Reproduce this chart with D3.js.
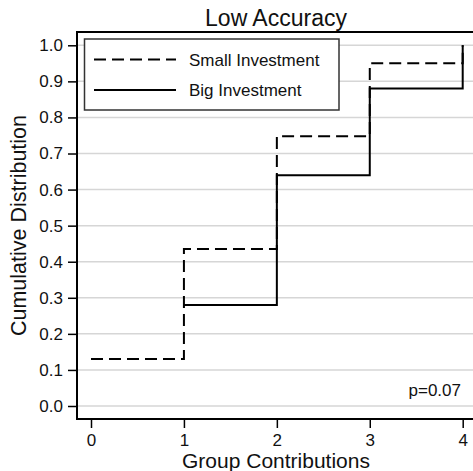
<!DOCTYPE html>
<html>
<head>
<meta charset="utf-8">
<script src="https://cdn.jsdelivr.net/npm/d3@7"></script>
<style>
  html, body { margin: 0; padding: 0; background: #fff; }
  svg { display: block; font-family: "Liberation Sans", Arial, Helvetica, sans-serif; }
</style>
</head>
<body>
<svg id="chart" width="473" height="471"></svg>
<script>
// Group contribution levels on the x axis
const contributions = [0, 1, 2, 3, 4];
// Cumulative distribution per treatment
const smallContrib = [0, 1, 2, 3, 4];
const smallCdf = [0.13, 0.435, 0.748, 0.95, 1.0];
const bigContrib = [1, 2, 3, 4];
const bigCdf = [0.28, 0.64, 0.88, 1.0];
// Axis ticks
const yTicks = [0, 0.1, 0.2, 0.3, 0.4, 0.5, 0.6, 0.7, 0.8, 0.9, 1.0];
const seriesNames = ["Small Investment", "Big Investment"];
const pLabel = "p=0.07";

const svg = d3.select("#chart");
const frame = { left: 77, top: 32, right: 490, bottom: 419 };

const x = d3.scaleLinear().domain([0, 4]).range([91, 462.7]);
const y = d3.scaleLinear().domain([0, 1]).range([406, 45.3]);

// horizontal grid lines
svg.append("g")
  .selectAll("line")
  .data(yTicks)
  .join("line")
  .attr("x1", frame.left).attr("x2", frame.right)
  .attr("y1", d => y(d)).attr("y2", d => y(d))
  .attr("stroke", "#d6d6d6").attr("stroke-width", 1.5);

// y axis
const yAxis = d3.axisLeft(y).tickValues(yTicks).tickFormat(d3.format(".1f"))
  .tickSize(9).tickPadding(5);
const gy = svg.append("g").attr("transform", `translate(${frame.left},0)`).call(yAxis);
gy.select(".domain").remove();
gy.selectAll(".tick line").attr("stroke", "#000").attr("stroke-width", 1.5);
gy.selectAll(".tick text").attr("font-size", 17).attr("fill", "#111")
  .attr("font-family", "'Liberation Sans', Arial, sans-serif");

// x axis
const xAxis = d3.axisBottom(x).tickValues(contributions).tickFormat(d3.format("d"))
  .tickSize(9).tickPadding(6);
const gx = svg.append("g").attr("transform", `translate(0,${frame.bottom})`).call(xAxis);
gx.select(".domain").remove();
gx.selectAll(".tick line").attr("stroke", "#000").attr("stroke-width", 1.5);
gx.selectAll(".tick text").attr("font-size", 17).attr("fill", "#111")
  .attr("font-family", "'Liberation Sans', Arial, sans-serif");

// plot frame: left, top, bottom
svg.append("path")
  .attr("d", `M${frame.right},${frame.top}H${frame.left}V${frame.bottom}H${frame.right}`)
  .attr("fill", "none").attr("stroke", "#000").attr("stroke-width", 2);

// step lines
const line = d3.line().x(d => x(d[0])).y(d => y(d[1])).curve(d3.curveStepAfter);

svg.append("path")
  .datum(d3.zip(smallContrib, smallCdf))
  .attr("d", line)
  .attr("fill", "none").attr("stroke", "#000").attr("stroke-width", 2)
  .attr("stroke-dasharray", "12,6");

svg.append("path")
  .datum(d3.zip(bigContrib, bigCdf))
  .attr("d", line)
  .attr("fill", "none").attr("stroke", "#000").attr("stroke-width", 2);

// legend
const legend = svg.append("g");
legend.append("rect")
  .attr("x", 84.5).attr("y", 39).attr("width", 254.5).attr("height", 71)
  .attr("fill", "#fff").attr("stroke", "#333").attr("stroke-width", 1.5);
const legendRows = [
  { name: seriesNames[0], dash: "12,6", yy: 59.5 },
  { name: seriesNames[1], dash: null, yy: 90 }
];
legendRows.forEach(r => {
  legend.append("line")
    .attr("x1", 94).attr("x2", 176).attr("y1", r.yy).attr("y2", r.yy)
    .attr("stroke", "#000").attr("stroke-width", 2)
    .attr("stroke-dasharray", r.dash);
  legend.append("text")
    .attr("x", 189).attr("y", r.yy + 6)
    .attr("font-size", 17).attr("fill", "#111")
    .text(r.name);
});

// title
svg.append("text")
  .attr("x", 276).attr("y", 26).attr("text-anchor", "middle")
  .attr("font-size", 23).attr("fill", "#111")
  .text("Low Accuracy");

// axis titles
svg.append("text")
  .attr("x", 276).attr("y", 468).attr("text-anchor", "middle")
  .attr("font-size", 21).attr("fill", "#111")
  .text("Group Contributions");

svg.append("text")
  .attr("transform", "translate(26,225.5) rotate(-90)")
  .attr("text-anchor", "middle")
  .attr("font-size", 21.5).attr("fill", "#111")
  .text("Cumulative Distribution");

// test statistic
svg.append("text")
  .attr("x", 461).attr("y", 396).attr("text-anchor", "end")
  .attr("font-size", 17).attr("fill", "#111")
  .text(pLabel);
</script>
</body>
</html>
